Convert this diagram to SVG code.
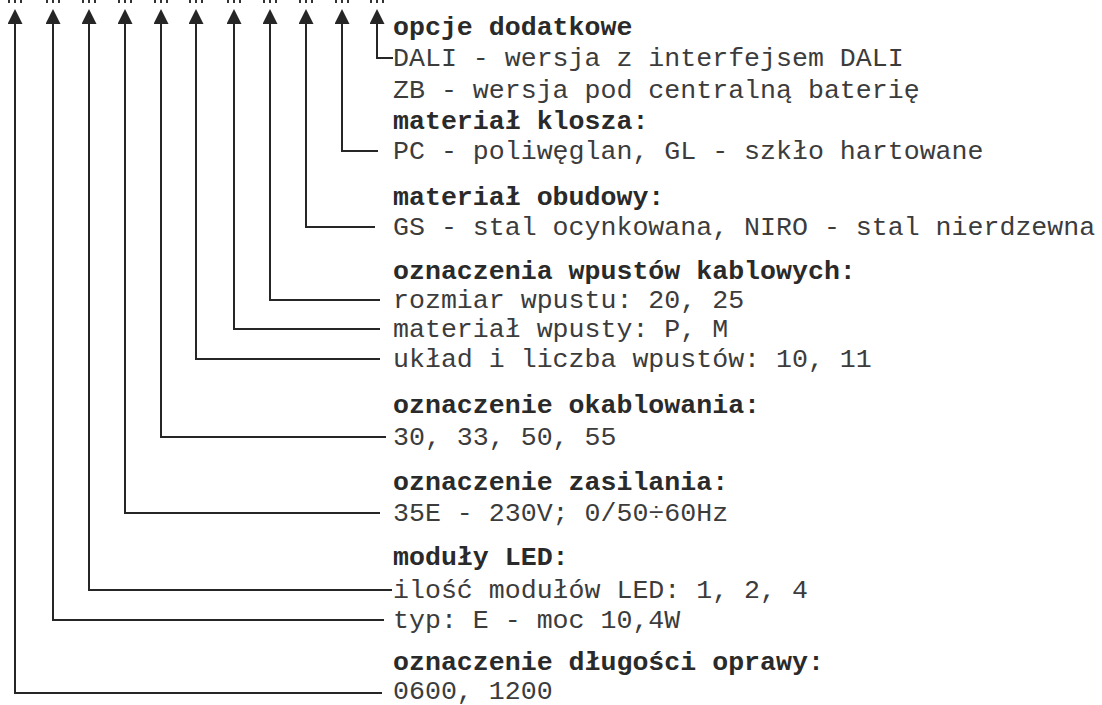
<svg xmlns="http://www.w3.org/2000/svg" width="1102" height="705" viewBox="0 0 1102 705">
<style>
text{font-family:"Liberation Mono","Courier New",monospace;font-size:26.6px;fill:#3c3c3c}
.h{font-weight:bold;fill:#2a2a2a}
.c{fill:none;stroke:#262626;stroke-width:2}
.d{fill:#333}
</style>
<defs>
<marker id="ah" markerUnits="userSpaceOnUse" viewBox="0 0 15 15" refX="12" refY="7.5" markerWidth="15" markerHeight="15" orient="auto">
<path d="M0,0 L15,7.5 L0,15 z" fill="#262626"/>
</marker>
<g id="dots"><rect x="-7" y="0" width="2" height="3"/><rect x="-1" y="0" width="2" height="3"/><rect x="5" y="0" width="2" height="3"/></g>
</defs>
<g id="marks" class="d">
<use href="#dots" x="15"/><use href="#dots" x="53"/><use href="#dots" x="89"/><use href="#dots" x="125"/><use href="#dots" x="161"/><use href="#dots" x="196"/><use href="#dots" x="234"/><use href="#dots" x="270"/><use href="#dots" x="306"/><use href="#dots" x="342"/><use href="#dots" x="377"/>
</g>
<g id="connectors">
<path class="c" marker-end="url(#ah)" d="M393,58 H377 V12"/>
<path class="c" marker-end="url(#ah)" d="M378,151 H342 V12"/>
<path class="c" marker-end="url(#ah)" d="M375,227 H306 V12"/>
<path class="c" marker-end="url(#ah)" d="M380,300 H270 V12"/>
<path class="c" marker-end="url(#ah)" d="M380,329 H234 V12"/>
<path class="c" marker-end="url(#ah)" d="M380,359 H196 V12"/>
<path class="c" marker-end="url(#ah)" d="M386,437 H161 V12"/>
<path class="c" marker-end="url(#ah)" d="M380,513 H125 V12"/>
<path class="c" marker-end="url(#ah)" d="M392,590 H89 V12"/>
<path class="c" marker-end="url(#ah)" d="M384,620 H53 V12"/>
<path class="c" marker-end="url(#ah)" d="M382,693 H15 V12"/>
</g>
<g id="opcje">
<text class="h" x="393" y="35">opcje dodatkowe</text>
<text x="393" y="66">DALI - wersja z interfejsem DALI</text>
<text x="393" y="98">ZB - wersja pod centralną baterię</text>
</g>
<g id="klosz">
<text class="h" x="393" y="129">materiał klosza:</text>
<text x="393" y="159">PC - poliwęglan, GL - szkło hartowane</text>
</g>
<g id="obudowa">
<text class="h" x="393" y="205">materiał obudowy:</text>
<text x="393" y="235">GS - stal ocynkowana, NIRO - stal nierdzewna</text>
</g>
<g id="wpusty">
<text class="h" x="393" y="279">oznaczenia wpustów kablowych:</text>
<text x="393" y="308">rozmiar wpustu: 20, 25</text>
<text x="393" y="337">materiał wpusty: P, M</text>
<text x="393" y="367">układ i liczba wpustów: 10, 11</text>
</g>
<g id="okablowanie">
<text class="h" x="393" y="413">oznaczenie okablowania:</text>
<text x="393" y="445">30, 33, 50, 55</text>
</g>
<g id="zasilanie">
<text class="h" x="393" y="490">oznaczenie zasilania:</text>
<text x="393" y="521">35E - 230V; 0/50÷60Hz</text>
</g>
<g id="moduly">
<text class="h" x="393" y="565">moduły LED:</text>
<text x="393" y="598">ilość modułów LED: 1, 2, 4</text>
<text x="393" y="628">typ: E - moc 10,4W</text>
</g>
<g id="dlugosc">
<text class="h" x="393" y="670">oznaczenie długości oprawy:</text>
<text x="393" y="699">0600, 1200</text>
</g>
</svg>
